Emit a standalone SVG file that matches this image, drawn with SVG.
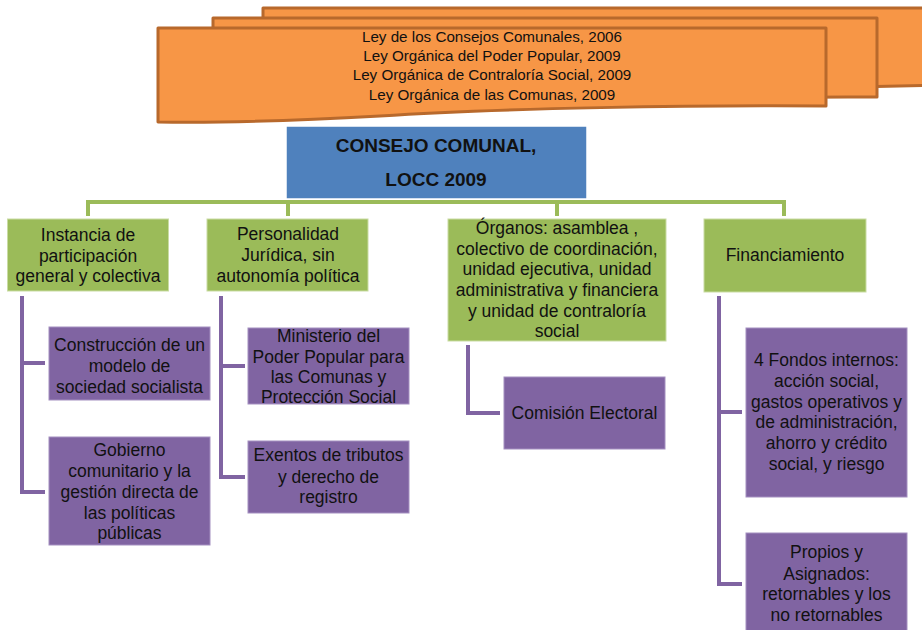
<svg xmlns="http://www.w3.org/2000/svg" width="922" height="630" viewBox="0 0 922 630">
<style>
text{font-family:"Liberation Sans",Arial,sans-serif;fill:#111;text-anchor:middle}
.doc{fill:#f79646;stroke:#b8692c;stroke-width:3;stroke-linejoin:round}
.law{font-size:15.2px}
.g{fill:#9bbb59;stroke:#c9dca3;stroke-width:1}
.p{fill:#8064a2;stroke:#a48fc0;stroke-width:1}
.t{font-size:17.5px}
.gl{fill:none;stroke:#9bbb59;stroke-width:4}
.pl{fill:none;stroke:#8064a2;stroke-width:4}
</style>
<g id="leyes">
<path class="doc" d="M263,8 H940 V85 C 800,86 600,92 263,100 Z"/>
<path class="doc" d="M213,18 H877 V97 C 700,96 500,104 213,112 Z"/>
<path class="doc" d="M158,28 H826 V106 C 700,105 500,108 380,116 C 290,121 220,123 158,122 Z"/>
<text class="law" x="492" y="42">Ley de los Consejos Comunales, 2006</text>
<text class="law" x="492" y="61">Ley Orgánica del Poder Popular, 2009</text>
<text class="law" x="492" y="80">Ley Orgánica de Contraloría Social, 2009</text>
<text class="law" x="492" y="100">Ley Orgánica de las Comunas, 2009</text>
</g>
<g id="connectors">
<path class="gl" d="M88,216 V202 H784 V216 M288,202 V216 M557,202 V216"/>
<path class="pl" d="M22,296 V492 H45 M22,363 H45"/>
<path class="pl" d="M221,296 V477 H245 M221,366 H245"/>
<path class="pl" d="M468,345 V413 H500"/>
<path class="pl" d="M719,296 V584 H742 M719,412 H742"/>
</g>
<g id="consejo">
<rect x="286" y="126" width="301" height="73" fill="#4f81bd" stroke="#fff" stroke-width="1.5"/>
<text x="436" y="152" font-size="19" font-weight="bold">CONSEJO COMUNAL,</text>
<text x="436" y="186" font-size="19" font-weight="bold">LOCC 2009</text>
</g>
<g id="instancia">
<rect class="g" x="7.5" y="219" width="161" height="72"/>
<text class="t" x="88" y="241">Instancia de</text>
<text class="t" x="88" y="262">participación</text>
<text class="t" x="88" y="282">general y colectiva</text>
</g>
<g id="personalidad">
<rect class="g" x="207" y="219" width="161" height="72"/>
<text class="t" x="288" y="240">Personalidad</text>
<text class="t" x="288" y="261">Jurídica, sin</text>
<text class="t" x="288" y="282">autonomía política</text>
</g>
<g id="organos">
<rect class="g" x="448" y="219" width="218" height="122"/>
<text class="t" x="557" y="234">Órganos: asamblea ,</text>
<text class="t" x="557" y="255">colectivo de coordinación,</text>
<text class="t" x="557" y="275">unidad ejecutiva, unidad</text>
<text class="t" x="557" y="296">administrativa y financiera</text>
<text class="t" x="557" y="317">y unidad de contraloría</text>
<text class="t" x="557" y="337">social</text>
</g>
<g id="financiamiento">
<rect class="g" x="704" y="219" width="162" height="73"/>
<text class="t" x="785" y="261">Financiamiento</text>
</g>
<g id="construccion">
<rect class="p" x="49" y="327" width="161" height="73"/>
<text class="t" x="129.5" y="351">Construcción de un</text>
<text class="t" x="129.5" y="372">modelo de</text>
<text class="t" x="129.5" y="393">sociedad socialista</text>
</g>
<g id="gobierno">
<rect class="p" x="49" y="437" width="161" height="108"/>
<text class="t" x="129.5" y="456">Gobierno</text>
<text class="t" x="129.5" y="477">comunitario y la</text>
<text class="t" x="129.5" y="498">gestión directa de</text>
<text class="t" x="129.5" y="519">las políticas</text>
<text class="t" x="129.5" y="539">públicas</text>
</g>
<g id="ministerio">
<rect class="p" x="248" y="328" width="161" height="76"/>
<text class="t" x="328.5" y="342">Ministerio del</text>
<text class="t" x="328.5" y="363">Poder Popular para</text>
<text class="t" x="328.5" y="383">las Comunas y</text>
<text class="t" x="328.5" y="403">Protección Social</text>
</g>
<g id="exentos">
<rect class="p" x="248" y="441" width="161" height="72"/>
<text class="t" x="328.5" y="461">Exentos de tributos</text>
<text class="t" x="328.5" y="483">y derecho de</text>
<text class="t" x="328.5" y="503">registro</text>
</g>
<g id="comision">
<rect class="p" x="504" y="377" width="161" height="72"/>
<text class="t" x="584.5" y="419">Comisión Electoral</text>
</g>
<g id="fondos">
<rect class="p" x="746" y="328" width="161" height="169"/>
<text class="t" x="826.5" y="366">4 Fondos internos:</text>
<text class="t" x="826.5" y="387">acción social,</text>
<text class="t" x="826.5" y="408">gastos operativos y</text>
<text class="t" x="826.5" y="428">de administración,</text>
<text class="t" x="826.5" y="449">ahorro y crédito</text>
<text class="t" x="826.5" y="470">social, y riesgo</text>
</g>
<g id="propios">
<rect class="p" x="746" y="533" width="161" height="100"/>
<text class="t" x="826.5" y="558">Propios y</text>
<text class="t" x="826.5" y="580">Asignados:</text>
<text class="t" x="826.5" y="600">retornables y los</text>
<text class="t" x="826.5" y="621">no retornables</text>
</g>
</svg>
